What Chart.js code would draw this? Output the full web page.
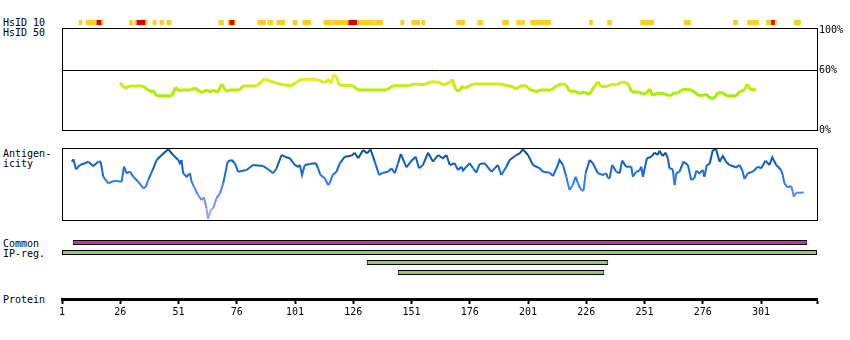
<!DOCTYPE html>
<html>
<head>
<meta charset="utf-8">
<script src="https://cdn.jsdelivr.net/npm/chart.js@4.4.1/dist/chart.umd.min.js"></script>
<style>
  body { margin: 0; background: #fff; }
  #wrap { position: relative; width: 850px; height: 340px; overflow: hidden; }
  #wrap canvas { position: absolute; left: 0; }
  .lbl { position: absolute; left: 3px; font: 10px "DejaVu Sans Mono", monospace; line-height: 10px; color: #000; white-space: pre; }
</style>
</head>
<body>
<div id="wrap">
  <div class="lbl" style="top:18px">HsID 10</div>
  <div class="lbl" style="top:28px">HsID 50</div>
  <div class="lbl" style="top:149px">Antigen-
icity</div>
  <div class="lbl" style="top:239px">Common</div>
  <div class="lbl" style="top:249px">IP-reg.</div>
  <div class="lbl" style="top:295px">Protein</div>

  <canvas id="id10" width="850" height="5" style="top:20px"></canvas>
  <canvas id="id50" width="850" height="124" style="top:18px"></canvas>
  <canvas id="antigen" width="850" height="88" style="top:140px"></canvas>
  <canvas id="regions" width="850" height="45" style="top:235px"></canvas>
  <canvas id="protein" width="850" height="60" style="top:260px"></canvas>
</div>
<script>
// sequence length and ruler
const proteinLength = 325;
const rulerTicks = [1, 26, 51, 76, 101, 126, 151, 176, 201, 226, 251, 276, 301, 325];
const rulerLabels = ['1', '26', '51', '76', '101', '126', '151', '176', '201', '226', '251', '276', '301', ''];

// HsID 10 stretches (residue from/to)
const hsid10Mid = [
  [8.3, 9.5], [11.3, 18.6], [30.0, 31.2], [32.3, 37.5], [40.0, 41.4], [43.0, 44.6], [46.0, 47.7],
  [68.3, 70.3], [72.2, 75.6], [85.0, 88.4], [89.3, 91.5], [93.2, 96.6], [100.1, 101.8],
  [104.3, 107.8], [113.4, 116.8], [117.2, 134.8], [135.2, 138.6], [146.4, 147.7], [151.1, 154.5],
  [155.4, 156.7], [170.4, 173.8], [179.4, 181.5], [190.1, 192.7], [196.1, 197.8], [198.3, 199.5],
  [202.1, 210.7], [227.4, 228.7], [235.1, 236.8], [249.3, 254.9], [268.1, 270.7], [289.2, 290.9],
  [295.2, 296.9], [297.3, 299.9], [303.3, 307.6], [315.3, 317.9]
];
const hsid10High = [[16.0, 17.7], [33.2, 36.6], [73.0, 74.8], [124.1, 127.5], [305.5, 306.7]];

// HsID 50 identity (%) along the sequence
const hsid50 = [
  [25.9, 47.0], [28.0, 41.7], [30.2, 44.0], [35.7, 44.0], [37.9, 40.0], [39.5, 38.3], [40.0, 40.0],
  [41.6, 34.3], [48.0, 34.0], [49.8, 42.7], [51.2, 39.0], [52.3, 40.0], [56.6, 40.0], [58.0, 42.3],
  [60.2, 38.3], [61.5, 37.7], [63.0, 40.0], [64.5, 38.3], [65.8, 40.0], [67.9, 37.7], [69.5, 46.0],
  [71.6, 38.3], [73.0, 40.0], [77.3, 40.0], [78.6, 44.0], [84.5, 44.0], [88.0, 51.0], [90.2, 49.0],
  [93.1, 46.7], [96.6, 45.0], [99.5, 44.3], [100.9, 46.7], [103.8, 50.7], [110.2, 50.7], [111.6, 49.3],
  [113.8, 47.3], [115.2, 50.0], [116.7, 47.3], [117.6, 55.3], [118.8, 53.3], [119.9, 45.0], [125.8, 44.3],
  [128.1, 40.0], [140.2, 40.0], [143.1, 44.3], [149.5, 44.3], [152.4, 46.0], [156.7, 45.3], [159.5, 48.3],
  [163.1, 47.7], [164.5, 45.0], [167.4, 47.3], [168.5, 50.7], [170.0, 40.0], [171.7, 39.3], [172.8, 44.0],
  [173.8, 41.7], [177.4, 46.0], [188.8, 46.0], [194.5, 43.3], [196.0, 40.7], [197.4, 44.0], [200.3, 44.3],
  [201.0, 41.7], [202.4, 40.0], [204.6, 38.3], [206.0, 40.0], [211.0, 40.0], [213.1, 44.0], [215.3, 46.0],
  [217.4, 45.0], [218.8, 38.3], [220.3, 39.3], [223.1, 36.7], [225.3, 37.7], [227.4, 35.7], [229.6, 44.0],
  [231.0, 48.3], [232.4, 43.3], [235.3, 44.0], [236.7, 45.7], [238.9, 45.0], [241.0, 47.7], [243.1, 47.7],
  [244.6, 43.3], [245.3, 38.3], [248.9, 37.7], [250.3, 35.7], [251.7, 36.7], [253.1, 41.0], [254.6, 34.3],
  [256.0, 36.7], [258.2, 36.7], [260.3, 35.7], [261.7, 34.0], [263.9, 37.3], [265.3, 36.7], [266.7, 40.0],
  [269.6, 40.7], [271.7, 39.3], [273.9, 35.0], [276.0, 34.3], [277.4, 36.0], [278.9, 32.3], [281.0, 31.7],
  [282.4, 37.3], [284.6, 37.3], [286.0, 34.3], [290.3, 34.0], [291.7, 38.3], [293.9, 40.0], [295.0, 46.0],
  [296.3, 40.7], [298.9, 40.0]
];
const identTicks = [0, 60, 100];

// antigenicity score (0-100) along the sequence
const antigenicity = [
  [5.2, 81.0], [5.9, 84.3], [7.0, 70.4], [8.7, 76.4], [10.9, 78.8], [12.3, 81.0], [14.4, 75.0], [16.6, 81.0],
  [17.6, 81.0], [18.7, 60.1], [20.9, 51.0], [23.7, 54.6], [26.6, 53.2], [27.6, 74.0], [28.7, 64.9], [30.2, 67.1],
  [31.6, 60.1], [33.7, 53.2], [35.9, 44.0], [37.0, 46.3], [38.0, 55.6], [39.9, 69.4], [41.6, 83.3], [43.8, 90.3],
  [46.6, 98.2], [48.7, 90.3], [50.9, 83.3], [51.6, 78.8], [52.3, 83.3], [53.0, 64.9], [54.5, 60.1], [55.9, 64.9],
  [56.6, 53.2], [57.6, 46.3], [59.4, 34.7], [60.9, 27.8], [61.9, 31.5], [63.0, 16.3], [63.7, 1.4], [64.8, 13.9],
  [65.9, 16.3], [67.3, 30.1], [68.8, 37.1], [70.2, 51.0], [72.1, 81.0], [73.8, 83.3], [75.2, 78.8], [76.6, 67.1],
  [80.2, 69.4], [83.0, 76.4], [87.3, 75.0], [89.5, 70.4], [91.6, 64.9], [93.1, 71.8], [95.2, 90.3], [96.6, 87.9],
  [98.8, 85.7], [100.9, 76.4], [102.3, 74.0], [103.1, 76.4], [104.0, 62.5], [105.2, 76.4], [107.3, 77.8],
  [109.9, 78.8], [110.9, 71.8], [111.9, 62.5], [113.8, 57.9], [115.2, 48.6], [115.9, 51.0], [117.1, 62.5],
  [118.8, 67.1], [120.2, 78.8], [122.4, 87.9], [125.2, 89.3], [126.6, 93.5], [128.1, 85.7], [130.2, 97.2],
  [131.9, 92.6], [133.4, 98.2], [135.2, 81.0], [137.1, 62.5], [138.8, 65.7], [140.9, 67.1], [142.4, 71.8],
  [143.8, 64.9], [145.2, 78.8], [146.4, 91.7], [148.8, 73.2], [151.0, 82.4], [152.8, 87.9], [154.2, 71.8],
  [155.9, 76.4], [158.1, 93.5], [160.2, 81.0], [162.4, 90.3], [164.5, 85.7], [166.0, 90.3], [167.4, 76.4],
  [169.5, 78.8], [170.9, 69.4], [172.4, 74.0], [173.1, 68.5], [174.5, 74.0], [176.0, 78.8], [177.4, 71.8],
  [178.8, 65.7], [180.2, 77.8], [182.4, 78.8], [185.3, 67.1], [186.7, 71.8], [188.1, 76.4], [189.5, 62.5],
  [191.7, 74.0], [193.1, 83.3], [196.0, 90.3], [197.4, 92.6], [198.8, 98.2], [201.0, 90.3], [203.1, 76.4],
  [206.0, 71.8], [207.4, 67.1], [210.3, 65.7], [211.7, 61.1], [213.8, 76.4], [214.5, 83.3], [216.0, 76.4],
  [217.4, 60.1], [218.8, 41.7], [220.2, 48.6], [221.4, 60.1], [222.4, 51.0], [223.8, 41.7], [224.8, 40.7],
  [225.7, 64.9], [227.4, 83.3], [228.8, 78.8], [231.0, 64.9], [233.1, 62.5], [234.6, 64.9], [235.3, 57.9],
  [236.0, 57.9], [237.1, 76.4], [238.9, 67.1], [240.3, 64.9], [241.4, 82.4], [243.1, 74.0], [245.3, 74.0],
  [246.0, 60.1], [247.4, 67.1], [248.8, 68.5], [249.6, 74.0], [250.3, 60.1], [252.0, 85.7], [253.9, 87.9],
  [255.3, 93.5], [256.7, 90.3], [257.4, 96.3], [258.8, 88.9], [260.0, 93.5], [261.0, 85.7], [261.7, 71.8],
  [263.1, 70.4], [263.9, 48.6], [264.6, 64.9], [266.0, 67.1], [267.7, 81.0], [269.6, 76.4], [271.0, 55.6],
  [272.4, 57.9], [273.2, 68.5], [274.6, 64.9], [276.0, 69.4], [276.7, 60.1], [277.7, 76.4], [278.9, 77.8],
  [280.3, 97.2], [281.7, 98.2], [283.2, 81.0], [284.6, 88.9], [286.0, 81.0], [287.4, 76.4], [290.3, 73.2],
  [291.7, 76.4], [292.9, 69.4], [293.9, 56.9], [295.3, 64.9], [297.4, 67.1], [299.6, 74.0], [301.0, 71.8],
  [302.9, 82.4], [304.6, 76.4], [305.8, 87.1], [307.5, 76.4], [309.6, 69.4], [310.3, 62.5], [311.0, 51.0],
  [312.4, 45.4], [313.9, 47.2], [314.6, 39.3], [315.0, 32.4], [316.0, 37.9], [318.9, 37.9], [319.2, 39.3]
];

// antigen regions
const regionRows = ['Common', 'IP-reg. 1', 'IP-reg. 2', 'IP-reg. 3'];
const commonRegions = [[5.6, 320.8]];
const ipRegions = [[1, 325], [131.8, 235.4], [145.1, 233.7]];

// colour ramps
const identStops = [[32, [150, 238, 0]], [40, [178, 238, 0]], [46, [206, 238, 16]], [52, [236, 236, 34]]];
const antigenStops = [
  [0, [178, 168, 255]], [12, [150, 156, 245]], [28, [110, 140, 255]], [42, [60, 133, 255]],
  [58, [34, 119, 238]], [72, [17, 102, 221]], [86, [12, 88, 190]], [96, [8, 76, 150]]
];

function ramp(stops, v) {
  if (v <= stops[0][0]) return 'rgb(' + stops[0][1].join(',') + ')';
  for (let i = 1; i < stops.length; i++) {
    if (v <= stops[i][0]) {
      const [a, ca] = stops[i - 1];
      const [b, cb] = stops[i];
      const t = (v - a) / (b - a);
      return 'rgb(' + ca.map((c, k) => Math.round(c + (cb[k] - c) * t)).join(',') + ')';
    }
  }
  return 'rgb(' + stops[stops.length - 1][1].join(',') + ')';
}

Chart.defaults.font.family = '"DejaVu Sans Mono", monospace';
Chart.defaults.font.size = 10;
Chart.defaults.color = '#000';
Chart.defaults.animation = false;
Chart.defaults.responsive = false;
Chart.defaults.devicePixelRatio = 1;
Chart.defaults.plugins.legend.display = false;
Chart.defaults.plugins.tooltip.enabled = false;

const side = { left: 62, right: 33, top: 0, bottom: 0 };
const seqAxis = { type: 'linear', min: 1, max: proteinLength, display: false };

// black box round a plot area
const panelFrame = {
  id: 'panelFrame',
  afterDraw(chart) {
    const a = chart.chartArea;
    const ctx = chart.ctx;
    ctx.save();
    ctx.strokeStyle = '#000';
    ctx.lineWidth = 1;
    ctx.strokeRect(Math.round(a.left) + 0.5, Math.round(a.top) + 0.5,
      Math.round(a.right - a.left), Math.round(a.bottom - a.top));
    ctx.restore();
  }
};

const spans = (list, row) => list.map(([a, b]) => ({ x: [a, b], y: row }));
const points = (list) => list.map(([x, y]) => ({ x, y }));

// HsID 10 strip
new Chart('id10', {
  type: 'bar',
  data: {
    labels: ['HsID 10'],
    datasets: [
      { data: spans(hsid10High, 'HsID 10'), backgroundColor: '#DD0000', grouped: false, barPercentage: 1, categoryPercentage: 1 },
      { data: spans(hsid10Mid, 'HsID 10'), backgroundColor: '#FFCC22', grouped: false, barPercentage: 1, categoryPercentage: 1 }
    ]
  },
  options: {
    indexAxis: 'y',
    layout: { padding: side },
    scales: { x: seqAxis, y: { display: false } }
  }
});

// HsID 50 panel, only the 60% threshold gets a line inside the box
new Chart('id50', {
  type: 'line',
  data: {
    datasets: [{
      data: points(hsid50),
      borderWidth: 3,
      pointRadius: 0,
      tension: 0,
      borderColor: '#B0EE00',
      segment: { borderColor: c => ramp(identStops, (c.p0.parsed.y + c.p1.parsed.y) / 2) }
    }]
  },
  options: {
    layout: { padding: { left: 62, right: 0, top: 10, bottom: 12 } },
    scales: {
      x: seqAxis,
      y: {
        position: 'right',
        min: 0,
        max: 102,
        afterFit: s => { s.width = 33; },
        afterBuildTicks: s => { s.ticks = identTicks.map(v => ({ value: v })); },
        ticks: { padding: 2, callback: v => v + '%' },
        grid: { color: c => (c.tick && c.tick.value === 60 ? '#000' : 'rgba(0,0,0,0)'), drawTicks: false },
        border: { display: false }
      }
    }
  },
  plugins: [panelFrame]
});

// antigenicity panel
new Chart('antigen', {
  type: 'line',
  data: {
    datasets: [{
      data: points(antigenicity),
      borderWidth: 2,
      pointRadius: 0,
      tension: 0,
      borderColor: '#1166DD',
      segment: { borderColor: c => ramp(antigenStops, (c.p0.parsed.y + c.p1.parsed.y) / 2) }
    }]
  },
  options: {
    layout: { padding: { left: 62, right: 33, top: 8, bottom: 8 } },
    scales: { x: seqAxis, y: { min: 0, max: 100, display: false } }
  },
  plugins: [panelFrame]
});

// Common / IP-reg. bars
const regionBar = { grouped: false, barPercentage: 0.5, categoryPercentage: 1, borderWidth: 1, borderColor: '#000', borderSkipped: false };
new Chart('regions', {
  type: 'bar',
  data: {
    labels: regionRows,
    datasets: [
      Object.assign({ data: spans(commonRegions, 'Common'), backgroundColor: '#CC3399' }, regionBar),
      Object.assign({
        data: ipRegions.map(([a, b], i) => ({ x: [a, b], y: regionRows[i + 1] })),
        backgroundColor: '#9CC860'
      }, regionBar)
    ]
  },
  options: {
    indexAxis: 'y',
    layout: { padding: { left: 62, right: 33, top: 2.5, bottom: 2.5 } },
    scales: { x: seqAxis, y: { display: false } }
  }
});

// protein ruler
new Chart('protein', {
  type: 'scatter',
  data: { datasets: [{ data: [] }] },
  options: {
    layout: { padding: { left: 62, right: 33, top: 0, bottom: 1 } },
    scales: {
      x: {
        type: 'linear',
        position: 'bottom',
        min: 1,
        max: proteinLength,
        afterFit: s => { s.height = 20; },
        afterBuildTicks: s => { s.ticks = rulerTicks.map(v => ({ value: v })); },
        ticks: { autoSkip: false, maxRotation: 0, padding: 2, callback: (v, i) => rulerLabels[i] },
        grid: { drawOnChartArea: false, drawTicks: true, tickLength: 5, tickWidth: 2, tickColor: '#000' },
        border: { display: true, width: 3, color: '#000' }
      },
      y: { display: false }
    }
  }
});
</script>
</body>
</html>
